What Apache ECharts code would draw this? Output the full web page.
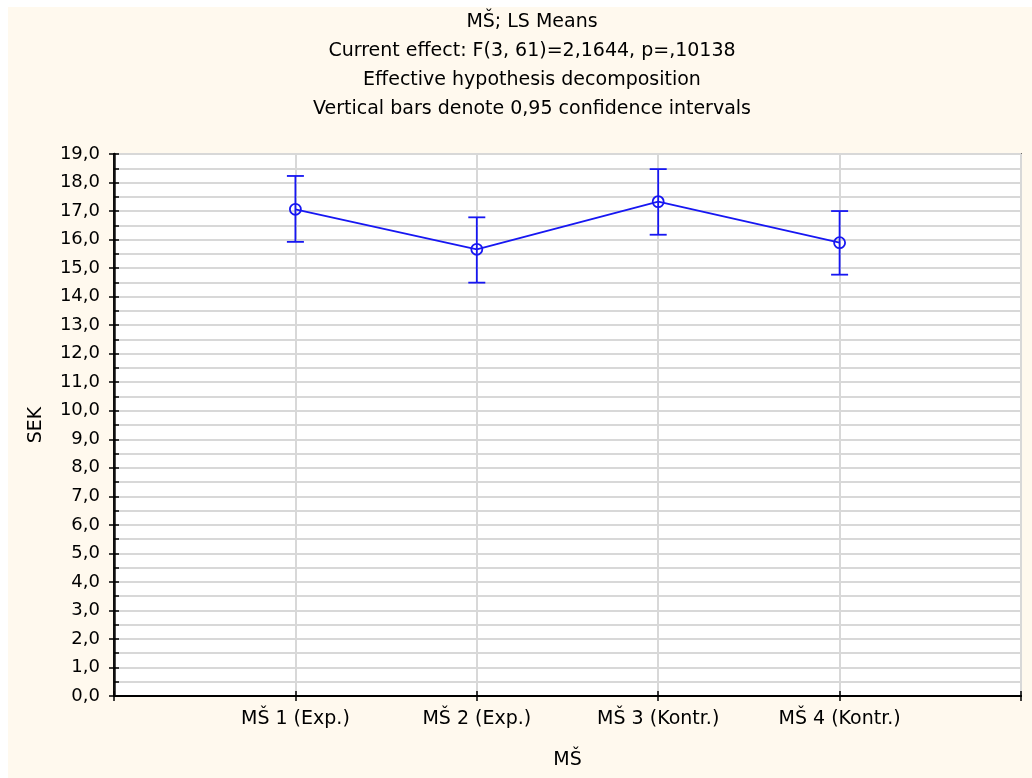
<!DOCTYPE html>
<html>
<head>
<meta charset="utf-8">
<script src="https://cdn.jsdelivr.net/npm/echarts@6/dist/echarts.min.js"></script>
<style>
html,body{margin:0;padding:0;background:#fff;}
#c{width:1032px;height:778px;}
</style>
</head>
<body>
<div id="c"></div>
<script>
var categories = ['MŠ 1 (Exp.)', 'MŠ 2 (Exp.)', 'MŠ 3 (Kontr.)', 'MŠ 4 (Kontr.)'];
var means = [17.06, 15.66, 17.33, 15.89];
var lower = [15.92, 14.49, 16.17, 14.77];
var upper = [18.23, 16.78, 18.47, 17.00];
var titleLines = ['MŠ; LS Means', 'Current effect: F(3, 61)=2,1644, p=,10138', 'Effective hypothesis decomposition', 'Vertical bars denote 0,95 confidence intervals'];
var yTicks = {min: 0, max: 19, interval: 0.5};

var FONT = '"DejaVu Sans", "Liberation Sans", sans-serif';
var BLUE = '#1717F2';
var chart = echarts.init(document.getElementById('c'), null, {renderer: 'canvas'});

var lineData = means.map(function (m, i) { return [i + 1, m]; });
var errData = means.map(function (m, i) { return [i + 1, m, lower[i], upper[i]]; });

chart.setOption({
  backgroundColor: '#FFF9EE',
  animation: false,
  graphic: [
    {type: 'rect', shape: {x: 0, y: 0, width: 8, height: 778}, style: {fill: '#fff'}},
    {type: 'rect', shape: {x: 0, y: 0, width: 1032, height: 7}, style: {fill: '#fff'}}
  ],
  title: {
    text: titleLines.join('\n'),
    left: 532, top: 8, textAlign: 'center', padding: 0,
    textStyle: {fontFamily: FONT, fontSize: 19, fontWeight: 'normal', color: '#000', lineHeight: 29}
  },
  grid: {left: 114, top: 154, right: 11, bottom: 82, show: true, backgroundColor: '#fff', borderColor: '#000', borderWidth: 1.5},
  xAxis: [{
    type: 'value', min: 0, max: 5, interval: 1,
    name: 'MŠ', nameLocation: 'middle', nameGap: 55,
    nameTextStyle: {fontFamily: FONT, fontSize: 19, color: '#000'},
    axisLine: {show: true, lineStyle: {color: '#000', width: 2}},
    axisTick: {show: true, inside: true, length: 5, lineStyle: {color: '#000', width: 1.5}},
    axisLabel: {fontFamily: FONT, fontSize: 19, color: '#000', margin: 14,
      formatter: function (v) { return (v >= 1 && v <= 4) ? categories[v - 1] : ''; }},
    splitLine: {show: true, lineStyle: {color: '#d8d8d8', width: 2}}
  }, {
    type: 'value', min: 0, max: 5, interval: 1, position: 'top',
    axisLine: {show: true, lineStyle: {color: '#000', width: 2}},
    axisTick: {show: true, inside: true, length: 5, lineStyle: {color: '#000', width: 1.5}},
    axisLabel: {show: false}, splitLine: {show: false}
  }],
  yAxis: [{
    type: 'value', min: yTicks.min, max: yTicks.max, interval: yTicks.interval,
    name: 'SEK', nameLocation: 'middle', nameGap: 68,
    nameTextStyle: {fontFamily: FONT, fontSize: 19, color: '#000'},
    axisLine: {show: true, lineStyle: {color: '#000', width: 2}},
    axisTick: {show: true, inside: true, length: 5, lineStyle: {color: '#000', width: 1.5}},
    axisLabel: {fontFamily: FONT, fontSize: 18, color: '#000', margin: 14,
      formatter: function (v) { return (Math.abs(v - Math.round(v)) < 1e-6) ? v.toFixed(1).replace('.', ',') : ''; }},
    splitLine: {show: true, lineStyle: {color: '#d8d8d8', width: 2}}
  }, {
    type: 'value', min: yTicks.min, max: yTicks.max, interval: 1, position: 'right',
    axisLine: {show: true, lineStyle: {color: '#111', width: 2.5}},
    axisTick: {show: true, inside: true, length: 5, lineStyle: {color: '#000', width: 1.5}},
    axisLabel: {show: false}, splitLine: {show: false}
  }],
  series: [{
    type: 'line', data: lineData, symbol: 'none',
    lineStyle: {color: BLUE, width: 1.8}, z: 3
  }, {
    type: 'custom', data: errData, z: 4,
    renderItem: function (params, api) {
      var c = api.coord([api.value(0), api.value(1)]);
      var lo = api.coord([api.value(0), api.value(2)]);
      var hi = api.coord([api.value(0), api.value(3)]);
      var w = 8.5;
      var st = {stroke: BLUE, lineWidth: 1.8, fill: null};
      return {type: 'group', children: [
        {type: 'line', shape: {x1: lo[0], y1: lo[1], x2: hi[0], y2: hi[1]}, style: st},
        {type: 'line', shape: {x1: lo[0] - w, y1: lo[1], x2: lo[0] + w, y2: lo[1]}, style: st},
        {type: 'line', shape: {x1: hi[0] - w, y1: hi[1], x2: hi[0] + w, y2: hi[1]}, style: st},
        {type: 'circle', shape: {cx: c[0], cy: c[1], r: 5.5}, style: {stroke: BLUE, lineWidth: 1.8, fill: 'none'}}
      ]};
    }
  }]
});
</script>
</body>
</html>
